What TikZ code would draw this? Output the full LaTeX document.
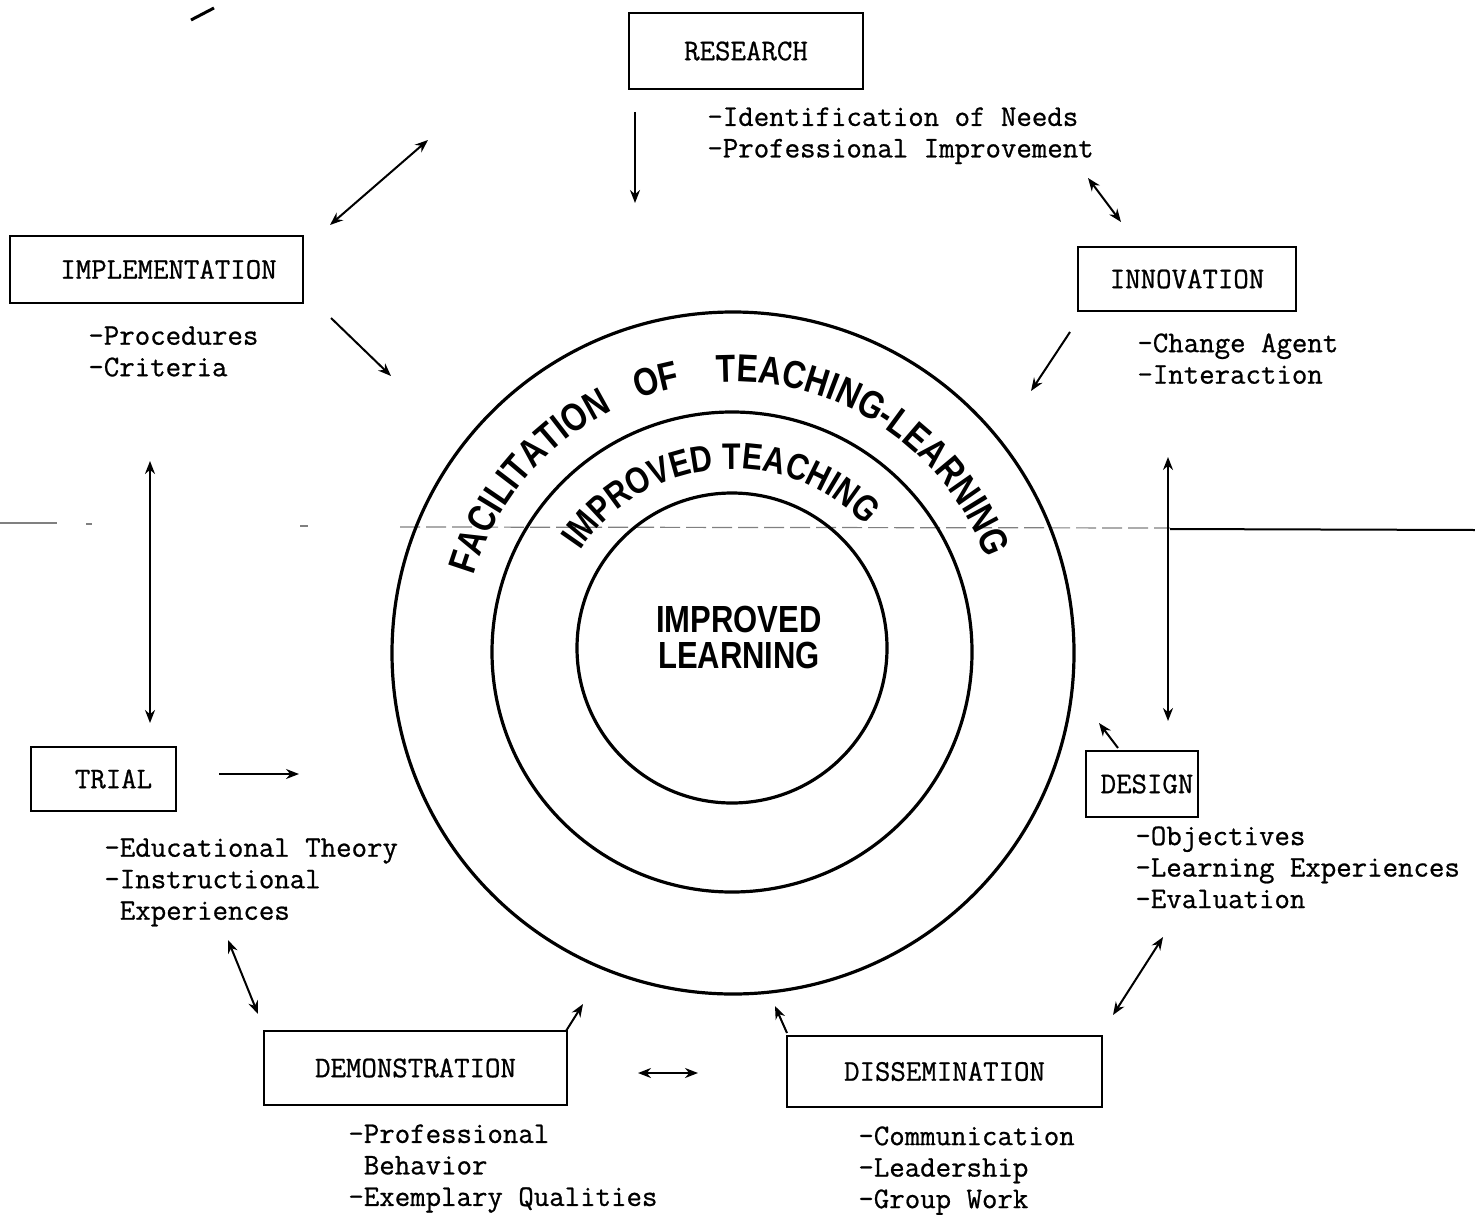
\documentclass[tikz,border=0pt]{standalone}
\usepackage{fontspec}
\newfontfamily\arcfont{Liberation Sans Bold}[FakeStretch=0.82]
\newfontfamily\twfont{Latin Modern Mono}[FakeBold=0.8]
\usetikzlibrary{arrows.meta,decorations.text}
\begin{document}
\begin{tikzpicture}[x=0.5pt,y=-0.5pt,
  tw/.style={font=\twfont\fontsize{15}{15.75}\selectfont},
  box/.style={draw,line width=1pt,inner sep=0pt,anchor=north west,tw},
  desc/.style={anchor=north west,inner sep=0pt,align=left,tw},
  tip/.tip={Stealth[length=6.5pt,width=5pt]},
  arr/.style={line width=1pt,-tip},
  darr/.style={line width=1pt,tip-tip},
  ring/.style={draw,circle,line width=1.6pt,inner sep=0pt}]
\useasboundingbox (0,0) rectangle (1475,1214);

% scan artefacts
\draw[line width=0.6pt,gray] (0,523) -- (57,523);
\draw[line width=0.6pt,gray] (86,524) -- (92,524);
\draw[line width=0.6pt,gray] (300,526) -- (308,526);
\draw[line width=0.6pt,gray,dash pattern=on 10pt off 3pt] (400,527) -- (1170,528);
\draw[line width=1pt] (1170,529) -- (1475,530);
\draw[line width=1.5pt] (191,20) -- (214,8);

% circles
\node[ring,minimum size=341pt] (outer) at (733,653) {};
\node[ring,minimum size=240pt] (middle) at (732,652) {};
\node[ring,minimum size=155pt] (inner) at (732,648) {};

\begin{scope}[shift={(733,652)},y=0.5pt]
\path[decorate,decoration={text along path,text align=center,
  text={|\arcfont\fontsize{19.5}{19.5}\selectfont|FACILITATION{\kern14pt}OF{\kern18pt}TEACHING-LEARNING}}]
  (182:270) arc[start angle=182,end angle=2,radius=270];
\path[decorate,decoration={text along path,text align=center,
  text={|\arcfont\fontsize{18.5}{18.5}\selectfont|IMPROVED TEACHING}}]
  (181:183) arc[start angle=181,end angle=9,radius=183];
\end{scope}

\node[font=\arcfont\fontsize{18.9}{18}\selectfont,align=center,inner sep=0pt] (core) at (739,637) {IMPROVED\\LEARNING};

% boxes
\node[box,minimum width=117pt,minimum height=38pt] (research) at (628,12) {RESEARCH};
\node[box,minimum width=146.5pt,minimum height=33.5pt] (impl) at (9,235) {\hspace*{12pt}IMPLEMENTATION};
\node[box,minimum width=109pt,minimum height=32pt] (innov) at (1077,246) {INNOVATION};
\node[box,minimum width=72.5pt,minimum height=32pt] (trial) at (30,746) {\hspace*{10pt}TRIAL};
\node[box,minimum width=56pt,minimum height=33pt] (design) at (1085,750) {\hspace*{5pt}DESIGN};
\node[box,minimum width=151.5pt,minimum height=37pt] (demo) at (263,1030) {DEMONSTRATION};
\node[box,minimum width=157.5pt,minimum height=35.5pt] (dissem) at (786,1035) {DISSEMINATION};

% descriptions
\node[desc] (researchd) at (707,107) {-Identification of Needs\\-Professional Improvement};
\node[desc] (impld) at (88,326) {-Procedures\\-Criteria};
\node[desc] (innovd) at (1137,333) {-Change Agent\\-Interaction};
\node[desc] (triald) at (104,838) {-Educational Theory\\-Instructional\\\phantom{-}Experiences};
\node[desc] (designd) at (1135,826) {-Objectives\\-Learning Experiences\\-Evaluation};
\node[desc] (demod) at (348,1124) {-Professional\\\phantom{-}Behavior\\-Exemplary Qualities};
\node[desc] (dissemd) at (858,1126) {-Communication\\-Leadership\\-Group Work};

% arrow end points
\coordinate (a1) at (635,112);  \coordinate (b1) at (635,203);
\coordinate (a2) at (330,225);  \coordinate (b2) at (428,140);
\coordinate (a3) at (331,318);  \coordinate (b3) at (391,376);
\coordinate (a4) at (1088,178); \coordinate (b4) at (1121,222);
\coordinate (a5) at (1070,332); \coordinate (b5) at (1031,391);
\coordinate (a6) at (150,461);  \coordinate (b6) at (150,723);
\coordinate (a7) at (1168,457); \coordinate (b7) at (1168,721);
\coordinate (a8) at (219,774);  \coordinate (b8) at (299,774);
\coordinate (a9) at (1118,748); \coordinate (b9) at (1099,723);
\coordinate (a10) at (1163,937); \coordinate (b10) at (1113,1015);
\coordinate (a11) at (228,940); \coordinate (b11) at (258,1014);
\coordinate (a12) at (566,1031); \coordinate (b12) at (583,1004);
\coordinate (a13) at (787,1033); \coordinate (b13) at (775,1006);
\coordinate (a14) at (638,1073); \coordinate (b14) at (698,1073);

\draw[arr] (a1) -- (b1);
\draw[darr] (a2) -- (b2);
\draw[arr] (a3) -- (b3);
\draw[darr] (a4) -- (b4);
\draw[arr] (a5) -- (b5);
\draw[darr] (a6) -- (b6);
\draw[darr] (a7) -- (b7);
\draw[arr] (a8) -- (b8);
\draw[arr] (a9) -- (b9);
\draw[darr] (a10) -- (b10);
\draw[darr] (a11) -- (b11);
\draw[arr] (a12) -- (b12);
\draw[arr] (a13) -- (b13);
\draw[darr] (a14) -- (b14);
\end{tikzpicture}
\end{document}
